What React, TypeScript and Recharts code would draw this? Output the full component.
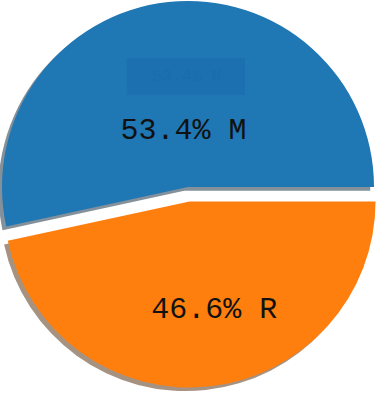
import React from 'react';
import { PieChart, Pie, Cell } from 'recharts';

const CATEGORIES = ['M', 'R'];
const VALUES = [53.4, 46.6];
const COLORS = ['#1f77b4', '#ff7f0e'];
const SHADOW_COLORS = ['#092436', '#4d2604'];
const EXPLODE = [0, 14.5];

const W = 378;
const H = 395;
const CX = 188;
const CY = 187;
const R = 186;
const SHADOW_DX = -3.7;
const SHADOW_DY = 3.7;

const LABEL_RADIUS = [0.3, 0.597];
const LABEL_ANGLE_SHIFT = [-1.4, 6.8];
const FONT = '"Liberation Mono", "DejaVu Sans Mono", monospace';

const data = CATEGORIES.map((name, i) => ({ name, value: VALUES[i] }));
const total = VALUES.reduce((a, b) => a + b, 0);

const midAngles: number[] = [];
{
  let acc = 0;
  VALUES.forEach((v) => {
    const span = (v / total) * 360;
    midAngles.push(acc + span / 2);
    acc += span;
  });
}
const RAD = Math.PI / 180;
const centers = VALUES.map((_, i) => ({
  x: CX + EXPLODE[i] * Math.cos(midAngles[i] * RAD),
  y: CY - EXPLODE[i] * Math.sin(midAngles[i] * RAD),
}));

const makeLabel = (visible: number) => (props: any) => {
  const { cx, cy, midAngle, outerRadius, index, value, name } = props;
  if (index !== visible) return null;
  const a = (midAngle + LABEL_ANGLE_SHIFT[index]) * RAD;
  const r = outerRadius * LABEL_RADIUS[index];
  const x = cx + r * Math.cos(a);
  const y = cy - r * Math.sin(a);
  const text = `${(100 * value / total).toFixed(1)}% ${name}`;
  const main = (
    <text
      key="main"
      x={x}
      y={y}
      textAnchor="middle"
      dominantBaseline="central"
      fontFamily={FONT}
      fontSize={30}
      fill="#111"
    >
      {text}
    </text>
  );
  if (index !== 0) return main;
  // faint ghost box at the default autopct distance
  const ga = (midAngle - 5) * RAD;
  const gr = outerRadius * 0.594;
  const gx = cx + gr * Math.cos(ga);
  const gy = cy - gr * Math.sin(ga);
  return (
    <g>
      <rect x={gx - 59} y={gy - 18.5} width={118} height={37} fill="#1c70b0" />
      <text
        x={gx + 1}
        y={gy}
        textAnchor="middle"
        dominantBaseline="central"
        fontFamily={FONT}
        fontSize={16.5}
        fill="#1b6cab"
      >
        {text}
      </text>
      {main}
    </g>
  );
};

export default function App() {
  return (
    <div style={{ position: 'absolute', left: 0, top: 0, width: W, height: H, background: '#fff' }}>
      <PieChart width={W} height={H} margin={{ top: 0, right: 0, bottom: 0, left: 0 }}>
        {VALUES.map((_, k) => (
          <Pie
            key={`shadow-${k}`}
            data={data}
            dataKey="value"
            nameKey="name"
            cx={centers[k].x + SHADOW_DX}
            cy={centers[k].y + SHADOW_DY}
            outerRadius={R}
            innerRadius={0}
            startAngle={0}
            endAngle={360}
            stroke="none"
            labelLine={false}
            isAnimationActive={false}
          >
            {data.map((_, i) => (
              <Cell
                key={i}
                fill={i === k ? SHADOW_COLORS[i] : 'none'}
                fillOpacity={i === k ? 0.5 : 0}
                stroke="none"
              />
            ))}
          </Pie>
        ))}
        {VALUES.map((_, k) => (
          <Pie
            key={`main-${k}`}
            data={data}
            dataKey="value"
            nameKey="name"
            cx={centers[k].x}
            cy={centers[k].y}
            outerRadius={R}
            innerRadius={0}
            startAngle={0}
            endAngle={360}
            stroke="none"
            labelLine={false}
            label={makeLabel(k)}
            isAnimationActive={false}
          >
            {data.map((_, i) => (
              <Cell
                key={i}
                fill={i === k ? COLORS[i] : 'none'}
                fillOpacity={i === k ? 1 : 0}
                stroke="none"
              />
            ))}
          </Pie>
        ))}
      </PieChart>
    </div>
  );
}
